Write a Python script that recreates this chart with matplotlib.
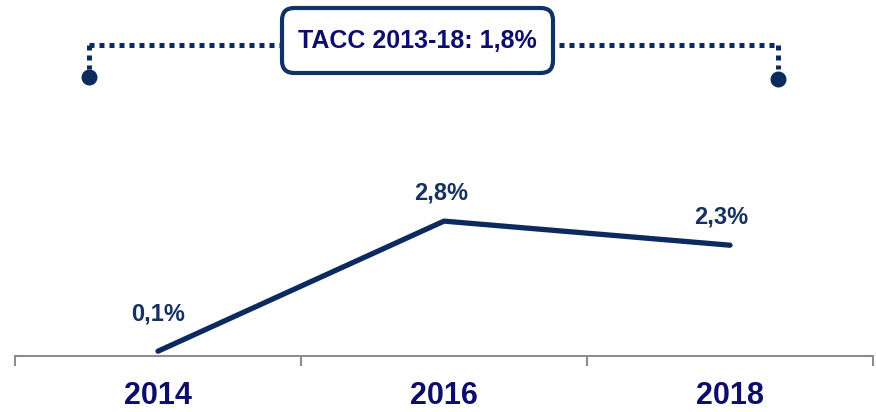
import matplotlib
matplotlib.use("Agg")
from matplotlib import pyplot as plt
from matplotlib.patches import FancyBboxPatch

years = ["2014", "2016", "2018"]
growth = [0.1, 2.8, 2.3]
growth_labels = ["0,1%", "2,8%", "2,3%"]
cagr_text = "TACC 2013-18: 1,8%"

navy = "#0c2a5e"
label_navy = "#0d0d6b"
grey = "#8c8c8c"

plt.rcParams["font.family"] = ["Liberation Sans", "DejaVu Sans"]
plt.rcParams["font.weight"] = "bold"

fig = plt.figure(figsize=(8.76, 4.12), dpi=100)
ax = fig.add_axes([15 / 876, 56 / 412, 858 / 876, 356 / 412])
ax.set_xlim(-0.5, 2.5)
ax.set_ylim(0, 7.39)

x = list(range(len(years)))
ax.plot(x, growth, color=navy, lw=3.8, solid_capstyle="round", zorder=3)

offsets = [(0, 27), (-2, 20), (-6, 20)]
for xi, v, lab, off in zip(x, growth, growth_labels, offsets):
    ax.annotate(lab, (xi, v), xytext=off, textcoords="offset points",
                ha="center", va="center", fontsize=17, fontweight="bold", color="#14315f")

# axis: only bottom line with boundary ticks
for s in ["top", "left", "right"]:
    ax.spines[s].set_visible(False)
ax.spines["bottom"].set_color(grey)
ax.spines["bottom"].set_linewidth(1.5)
ax.set_yticks([])
ax.set_xticks(x)
ax.set_xticklabels(years, fontsize=22, fontweight="bold", color=label_navy)
ax.tick_params(axis="x", which="major", length=0, pad=18)
ax.set_xticks([-0.5, 0.5, 1.5, 2.5], minor=True)
ax.tick_params(axis="x", which="minor", length=7, width=1.5, color=grey)

# bracket for the CAGR
xl, xr = -0.241, 2.168
ytop = 6.45
dot_style = dict(color=navy, lw=3.6, linestyle=(0, (1.0, 1.0)), dash_capstyle="butt", zorder=2)
ax.plot([xl, xr], [ytop, ytop], **dot_style)
ax.plot([xl, xl], [ytop, 5.95], **dot_style)
ax.plot([xr, xr], [ytop, 5.95], **dot_style)
ax.plot([xl, xr], [5.79, 5.75], "o", color=navy, ms=10.5, zorder=3, linestyle="none")

# rounded box with text (in figure pixels)
bx0, by0, bw, bh = 282, 412 - 73, 271, 65
box = FancyBboxPatch((bx0 / 876, by0 / 412), bw / 876, bh / 412,
                     boxstyle="round,pad=0,rounding_size=0.014",
                     mutation_aspect=876 / 412,
                     transform=fig.transFigure, facecolor="white",
                     edgecolor="#0d3263", lw=3.0, zorder=5)
fig.patches.append(box)
fig.text((bx0 + bw / 2) / 876, (by0 + bh / 2) / 412, cagr_text, ha="center", va="center",
         fontsize=18, fontweight="bold", color=label_navy, zorder=6)

fig.savefig("out.png", dpi=100)
